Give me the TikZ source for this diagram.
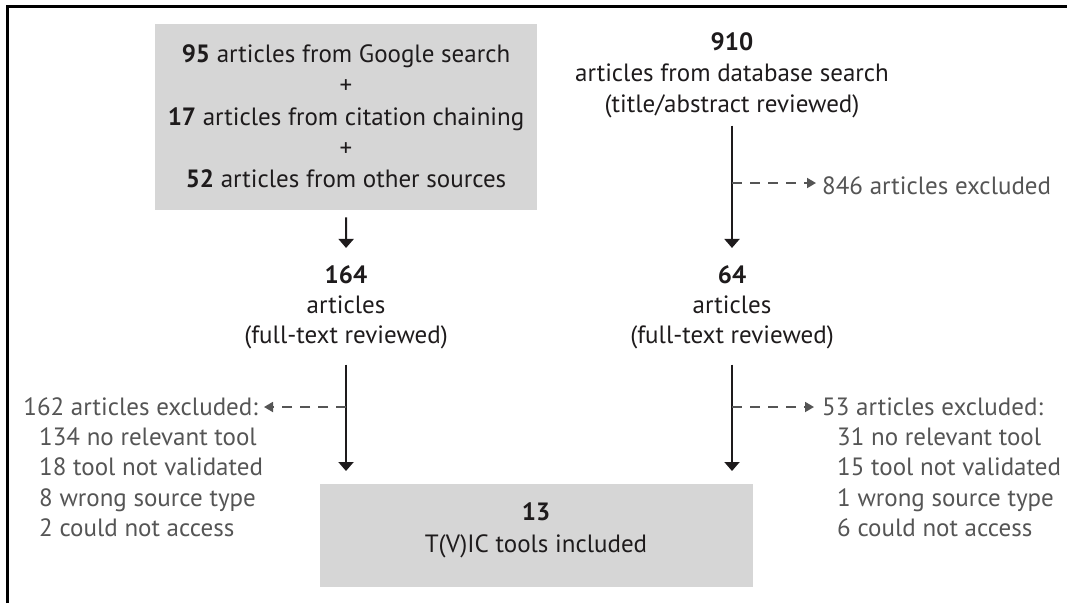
\documentclass[tikz,border=0pt]{standalone}
\usepackage{fontspec}
\setmainfont{PT Sans}
\usetikzlibrary{arrows.meta}
\definecolor{ink}{HTML}{1E1B1C}
\definecolor{greyink}{HTML}{555555}
\definecolor{boxfill}{HTML}{D6D6D6}
\begin{document}
\begin{tikzpicture}[x=1pt,y=-1pt,
  txt/.style={inner sep=0pt, text=ink, font=\fontsize{25}{30}\selectfont, anchor=base},
  gtxt/.style={inner sep=0pt, text=greyink, font=\fontsize{25}{30}\selectfont, anchor=base west},
  graybox/.style={fill=boxfill, draw=none, inner sep=0pt, anchor=north west},
  flow/.style={draw=ink, line width=2pt, -{Triangle[width=15pt,length=9pt]}},
  skip/.style={draw=greyink, line width=1.8pt, dash pattern=on 10pt off 8pt, -{Triangle[width=10pt,length=9pt]}},
  frame/.style={draw=black, line width=3pt}
]
\useasboundingbox (0,0) rectangle (1067,603);
\draw[frame] (7.5,603) -- (7.5,6) -- (1067,6);

% source box
\node[graybox, minimum width=382pt, minimum height=186pt] (src) at (155,24) {};
\node[txt] (s1) at (346,62) {\textbf{95} articles from Google search};
\node[txt] (p1) at (346,93.5) {+};
\node[txt] (s2) at (346,125) {\textbf{17} articles from citation chaining};
\node[txt] (p2) at (346,156) {+};
\node[txt] (s3) at (346,187) {\textbf{52} articles from other sources};

% database
\node[txt] (db1) at (732,50) {\textbf{910}};
\node[txt] (db2) at (732,81) {articles from database search};
\node[txt] (db3) at (732,112) {(title/abstract reviewed)};

% full text left
\node[txt] (l1) at (346,283) {\textbf{164}};
\node[txt] (l2) at (346,313) {articles};
\node[txt] (l3) at (346,343) {(full-text reviewed)};

% full text right
\node[txt] (r1) at (732,283) {\textbf{64}};
\node[txt] (r2) at (732,313) {articles};
\node[txt] (r3) at (732,343) {(full-text reviewed)};

% final box
\node[graybox, minimum width=433pt, minimum height=103pt] (fin) at (320,484) {};
\node[txt] (f1) at (536,520) {\textbf{13}};
\node[txt] (f2) at (536,552) {T(V)IC tools included};

% exclusions
\node[gtxt] (ex846) at (822,194) {846 articles excluded};
\node[gtxt, anchor=base east] (ex162) at (258,415) {162 articles excluded:};
\node[gtxt] (ex162a) at (39,445) {134 no relevant tool};
\node[gtxt] (ex162b) at (39,475) {18 tool not validated};
\node[gtxt] (ex162c) at (39,506) {8 wrong source type};
\node[gtxt] (ex162d) at (39,536) {2 could not access};
\node[gtxt] (ex53) at (822,415) {53 articles excluded:};
\node[gtxt] (ex53a) at (837,445) {31 no relevant tool};
\node[gtxt] (ex53b) at (837,475) {15 tool not validated};
\node[gtxt] (ex53c) at (837,506) {1 wrong source type};
\node[gtxt] (ex53d) at (837,536) {6 could not access};

% main flow
\draw[flow, shorten <=7pt, shorten >=17pt] (src.south) -- (l1.north);
\draw[flow, shorten <=8pt, shorten >=17pt] (db3.south) -- (r1.north);
\draw[flow, shorten <=16pt, shorten >=13pt] (l3.south) -- (l3.south |- fin.north);
\draw[flow, shorten <=16pt, shorten >=13pt] (r3.south) -- (r3.south |- fin.north);

% exclusion branches
\coordinate (j1) at (db3 |- 0,183);
\coordinate (j2) at (l3 |- 0,407);
\coordinate (j3) at (r3 |- 0,407);
\draw[skip, shorten >=6pt] (j1) -- (j1 -| ex846.west);
\draw[skip, shorten >=6pt] (j2) -- (j2 -| ex162.east);
\draw[skip, shorten >=8pt] (j3) -- (j3 -| ex53.west);
\end{tikzpicture}
\end{document}
